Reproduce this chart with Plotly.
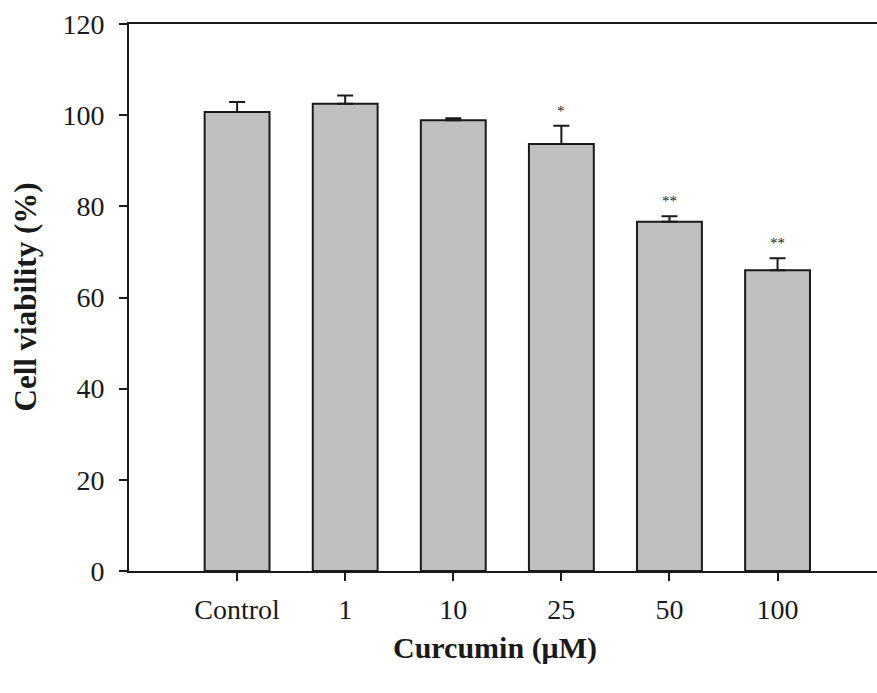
import plotly.graph_objects as go

# Cell viability after curcumin treatment
doses = ["Control", "1", "10", "25", "50", "100"]
viability = [100.7, 102.5, 98.9, 93.7, 76.6, 66.0]
sem = [2.2, 1.8, 0.4, 4.0, 1.2, 2.6]
significance = ["", "", "", "*", "**", "**"]

serif = "Times New Roman, Liberation Serif, serif"
ink = "#1a1a1a"

fig = go.Figure()
fig.add_trace(go.Bar(
    x=doses,
    y=viability,
    width=0.6,
    marker=dict(color="#c0c0c0", line=dict(color=ink, width=2)),
    error_y=dict(type="data", symmetric=False, array=sem,
                 arrayminus=[0] * len(sem),
                 color=ink, thickness=2, width=8),
    showlegend=False,
))

# Significance stars above the error bars (x given as category index)
for i, (v, e, s) in enumerate(zip(viability, sem, significance)):
    if s:
        fig.add_annotation(x=i, y=v + e, text=s, showarrow=False,
                           yanchor="bottom", yshift=5,
                           font=dict(family=serif, size=15, color=ink))

fig.add_annotation(xref="paper", yref="paper", x=(495 - 129) / 748, y=0,
                   yshift=-77, text="<b>Curcumin (μM)</b>", showarrow=False,
                   xanchor="center", yanchor="middle",
                   font=dict(family=serif, size=30, color=ink))
fig.add_annotation(xref="paper", yref="paper", x=(25 - 129) / 748, y=0.5,
                   text="<b>Cell viability (%)</b>", textangle=-90,
                   showarrow=False, xanchor="center", yanchor="middle",
                   font=dict(family=serif, size=31, color=ink))

fig.update_layout(
    width=877, height=693,
    margin=dict(l=129, r=0, t=24, b=122),
    plot_bgcolor="white", paper_bgcolor="white",
    font=dict(family=serif, size=28, color=ink),
    xaxis=dict(type="category", range=[-1, 5.92], showline=True,
               linecolor=ink, linewidth=2, mirror=True, ticks="outside",
               ticklen=8, tickwidth=2, tickcolor=ink, showgrid=False,
               zeroline=False, ticklabelstandoff=4),
    yaxis=dict(range=[0, 120], tickvals=[0, 20, 40, 60, 80, 100, 120],
               showline=True, linecolor=ink, linewidth=2, ticks="outside",
               ticklen=8, tickwidth=2, tickcolor=ink, showgrid=False,
               zeroline=False, ticklabelstandoff=9),
    bargap=0.4,
)

fig.write_html("out.html")
